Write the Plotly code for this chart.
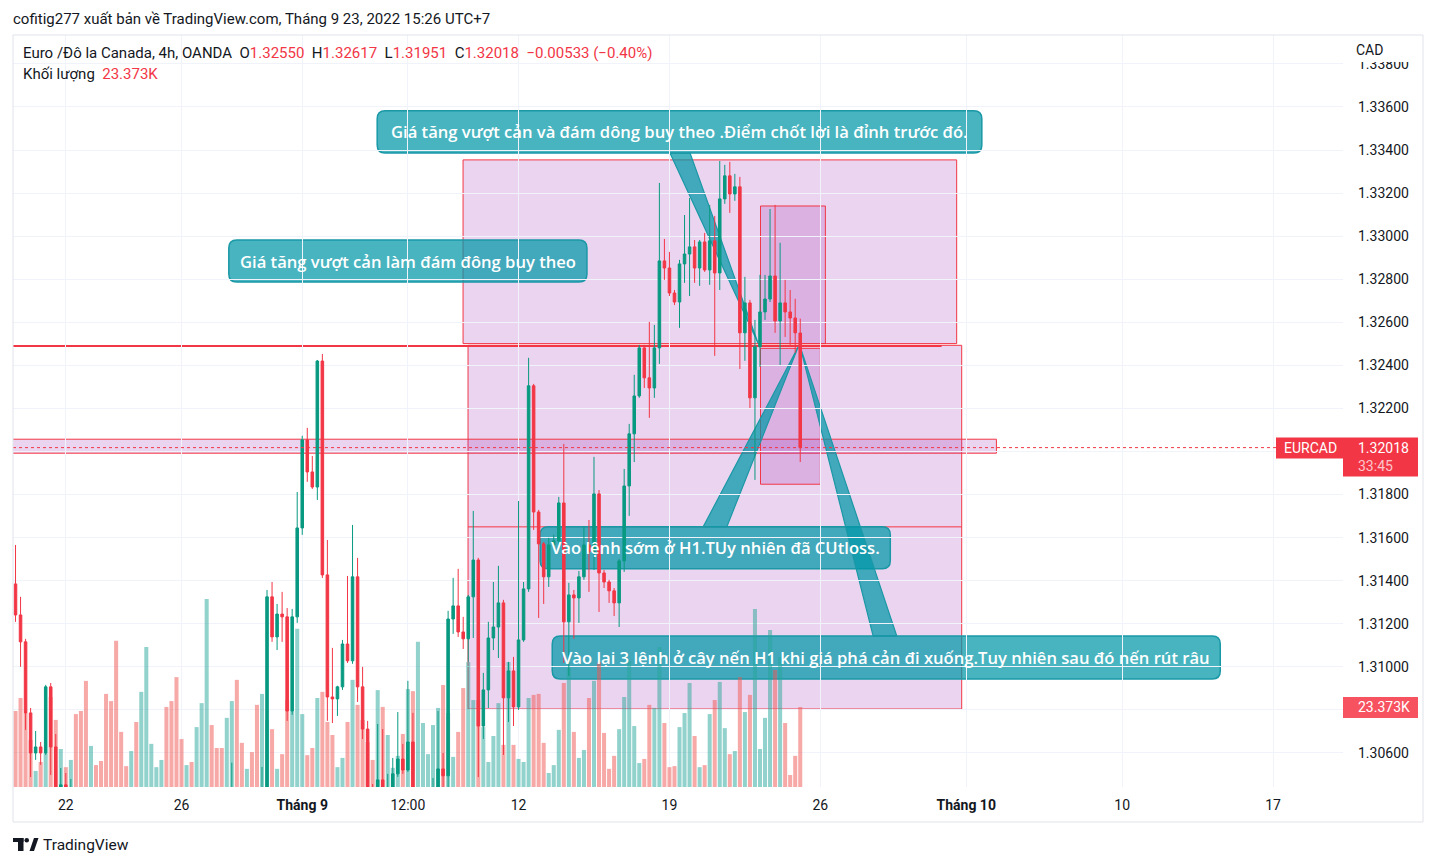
import plotly.graph_objects as go

# ---------------- data (EURCAD, 4h, OANDA) ----------------
open_ = [1.31385,1.31241,1.31116,1.30786,1.30600,1.30628,1.30600,1.30907,1.30628,1.30425,
         1.30452,1.30419,1.30430,1.30300,1.30220,1.30100,1.30180,1.30120,1.30050,1.29940,
         1.29850,1.29680,1.29620,1.29580,1.29660,1.29570,1.29720,1.29900,1.29960,1.30000,
         1.30060,1.29960,1.29880,1.29750,1.29700,1.29750,1.29710,1.29820,1.29950,1.30250,
         1.30150,1.30100,1.30040,1.30150,1.30300,1.30180,1.30120,1.30160,1.30080,1.30000,
         1.30300,1.31325,1.31139,1.31245,1.31232,1.30795,1.31232,1.31645,1.32054,1.31905,
         1.31835,1.32420,1.31427,1.30860,1.30851,1.30907,1.31106,1.31028,1.31418,1.30907,
         1.30711,1.30400,1.30360,1.30475,1.30400,1.30430,1.30503,1.30572,1.30521,1.30651,
         1.30350,1.30380,1.30380,1.30360,1.30420,1.30526,1.30494,1.31222,1.31283,1.31162,
         1.31130,1.31325,1.31496,1.30725,1.30893,1.31134,1.31185,1.31297,1.30856,1.30981,
         1.30814,1.31125,1.31362,1.32305,1.31719,1.31571,1.31418,1.31566,1.31585,1.31761,
         1.31209,1.31334,1.31320,1.31418,1.31566,1.31534,1.31803,1.31436,1.31394,1.31353,
         1.31297,1.31492,1.31840,1.32082,1.32258,1.32481,1.32342,1.32295,1.32481,1.32885,
         1.32852,1.32736,1.32694,1.32871,1.32917,1.32950,1.32852,1.32973,1.32843,1.32978,
         1.32829,1.33173,1.33280,1.33196,1.33229,1.32551,1.32690,1.32249,1.32486,1.32648,
         1.32708,1.32815,1.32606,1.32690,1.32648,1.32620,1.32550]
high = [1.31566,1.31325,1.31130,1.30809,1.30702,1.30651,1.30916,1.30925,1.30688,1.30530,
        1.30507,1.30479,1.30435,1.30340,1.30260,1.30220,1.30210,1.30150,1.30080,1.29980,
        1.29900,1.29720,1.29650,1.29700,1.29690,1.29760,1.29950,1.30000,1.30040,1.30100,
        1.30120,1.30000,1.29930,1.29800,1.29780,1.29790,1.29860,1.29990,1.30320,1.30300,
        1.30190,1.30140,1.30200,1.30555,1.30380,1.30220,1.30190,1.30200,1.30120,1.30535,
        1.31357,1.31394,1.31292,1.31348,1.31273,1.31269,1.31812,1.32073,1.32110,1.31979,
        1.32425,1.32453,1.31589,1.31088,1.30912,1.31125,1.31422,1.31659,1.31506,1.31000,
        1.30749,1.30456,1.30735,1.30711,1.30503,1.30577,1.30790,1.30642,1.30935,1.30786,
        1.30430,1.30435,1.30438,1.30484,1.30795,1.30600,1.31260,1.31413,1.31455,1.31232,
        1.31334,1.31724,1.31506,1.30972,1.31209,1.31394,1.31469,1.31311,1.31023,1.31046,
        1.31770,1.31394,1.32435,1.32314,1.31729,1.31580,1.31599,1.31613,1.31789,1.32035,
        1.31390,1.31357,1.31445,1.31650,1.31682,1.31975,1.31821,1.31450,1.31404,1.31366,
        1.31501,1.31919,1.32128,1.32356,1.32495,1.32495,1.32602,1.32588,1.33247,1.32987,
        1.32927,1.32750,1.32890,1.33098,1.33177,1.32982,1.32982,1.33015,1.33145,1.33094,
        1.33349,1.33331,1.33345,1.33289,1.33275,1.32811,1.32704,1.32611,1.32820,1.32820,
        1.33126,1.33145,1.32969,1.32797,1.32750,1.32709,1.32617]
low = [1.31209,1.31000,1.30707,1.30488,1.30568,1.30545,1.30591,1.30498,1.30382,1.30382,
       1.30382,1.30360,1.30250,1.30180,1.30050,1.30060,1.30080,1.30010,1.29900,1.29800,
       1.29620,1.29560,1.29530,1.29550,1.29500,1.29540,1.29680,1.29860,1.29930,1.29970,
       1.29920,1.29830,1.29700,1.29650,1.29670,1.29660,1.29680,1.29780,1.29900,1.30100,
       1.30060,1.30000,1.30010,1.30120,1.30120,1.30080,1.30090,1.30030,1.29960,1.29980,
       1.30250,1.31116,1.31078,1.31116,1.30749,1.30777,1.31204,1.31613,1.31859,1.31826,
       1.31775,1.31413,1.30749,1.30739,1.30772,1.30893,1.31018,1.31014,1.30837,1.30665,
       1.30350,1.30300,1.30330,1.30360,1.30370,1.30400,1.30489,1.30503,1.30512,1.30300,
       1.30200,1.30340,1.30320,1.30300,1.30360,1.30428,1.30442,1.31153,1.31139,1.31083,
       1.31023,1.31134,1.30488,1.30665,1.30809,1.31078,1.31041,1.30591,1.30744,1.30725,
       1.30800,1.31116,1.31348,1.31636,1.31227,1.31292,1.31371,1.31552,1.31566,1.31018,
       1.30958,1.31130,1.31204,1.31404,1.31348,1.31450,1.31255,1.31366,1.31297,1.31236,
       1.31185,1.31441,1.31701,1.31951,1.32249,1.32295,1.32156,1.32249,1.32407,1.32797,
       1.32722,1.32680,1.32574,1.32783,1.32722,1.32783,1.32769,1.32834,1.32774,1.32444,
       1.32750,1.33150,1.33108,1.33164,1.32383,1.32421,1.32202,1.31868,1.32393,1.32611,
       1.32694,1.32551,1.32402,1.32532,1.32495,1.32458,1.31951]
close = [1.31241,1.31116,1.30786,1.30600,1.30628,1.30600,1.30907,1.30628,1.30428,1.30452,
         1.30419,1.30430,1.30300,1.30220,1.30100,1.30180,1.30120,1.30050,1.29940,1.29850,
         1.29680,1.29620,1.29580,1.29660,1.29570,1.29720,1.29900,1.29960,1.30000,1.30060,
         1.29960,1.29880,1.29750,1.29700,1.29750,1.29710,1.29820,1.29950,1.30250,1.30150,
         1.30100,1.30040,1.30150,1.30300,1.30180,1.30120,1.30160,1.30080,1.30000,1.30300,
         1.31325,1.31139,1.31245,1.31232,1.30795,1.31232,1.31645,1.32054,1.31905,1.31835,
         1.32420,1.31427,1.30860,1.30851,1.30907,1.31106,1.31028,1.31418,1.30907,1.30711,
         1.30400,1.30360,1.30475,1.30400,1.30430,1.30503,1.30572,1.30521,1.30651,1.30350,
         1.30400,1.30420,1.30430,1.30420,1.30526,1.30494,1.31222,1.31283,1.31162,1.31130,
         1.31325,1.31496,1.30725,1.30893,1.31134,1.31185,1.31297,1.30856,1.30981,1.30814,
         1.31125,1.31362,1.32305,1.31719,1.31571,1.31418,1.31566,1.31585,1.31761,1.31209,
         1.31334,1.31320,1.31418,1.31566,1.31534,1.31803,1.31436,1.31394,1.31353,1.31297,
         1.31492,1.31840,1.32082,1.32258,1.32481,1.32342,1.32295,1.32481,1.32885,1.32852,
         1.32736,1.32694,1.32871,1.32917,1.32950,1.32852,1.32973,1.32843,1.32978,1.32829,
         1.33173,1.33280,1.33196,1.33229,1.32551,1.32690,1.32249,1.32486,1.32648,1.32708,
         1.32815,1.32606,1.32690,1.32648,1.32620,1.32551,1.32018]
volume_k = [22.2,26.0,21.6,13.7,4.7,7.3,9.9,26.3,19.6,11.1,5.8,7.9,21.3,22.2,31.0,12.0,6.4,7.6,
            27.2,25.1,42.7,16.1,6.1,10.5,19.0,27.8,40.9,12.6,5.8,7.9,23.4,25.1,32.1,14.0,6.4,7.3,
            17.5,24.5,54.9,18.1,11.4,11.4,20.2,25.1,31.3,12.9,5.3,10.2,24.0,27.2,19.6,16.9,5.3,9.6,
            25.4,22.2,46.2,21.3,9.3,11.4,26.0,27.8,19.0,15.2,5.8,8.5,19.0,31.3,24.0,19.6,13.1,7.9,
            28.3,23.4,15.2,5.6,9.1,15.5,28.6,28.0,42.4,18.7,9.6,18.1,23.1,29.8,21.6,8.8,16.1,28.9,
            36.5,25.4,25.4,17.5,7.3,14.9,24.5,12.3,36.5,12.3,8.2,7.3,26.0,26.9,27.2,12.9,4.1,6.4,
            16.7,30.4,34.8,16.1,8.5,10.8,26.0,31.0,36.5,15.8,5.3,9.1,16.9,26.3,36.8,17.8,7.0,8.2,
            24.0,23.1,40.9,18.7,5.8,6.1,17.5,21.6,30.4,14.9,5.8,6.4,21.3,25.4,30.7,17.2,9.6,10.5,
            32.1,21.9,26.9,52.0,11.1,20.2,45.9,34.2,38.0,18.7,3.5,9.1,23.373]

tick_index = [10, 33, 57, 78, 100, 130, 160, 189, 220, 250]
tick_labels = ["22", "26", "<b>Tháng 9</b>", "12:00", "12", "19", "26", "<b>Tháng 10</b>", "10", "17"]

symbol = "EURCAD"
title_text = "cofitig277 xuất bản về TradingView.com, Tháng 9 23, 2022 15:26 UTC+7"
series_name = "Euro /Đô la Canada, 4h, OANDA"
countdown = "33:45"

callout_texts = [
    "Giá tăng vượt cản và đám dông buy theo .Điểm chốt lời là đỉnh trước đó.",
    "Giá tăng vượt cản làm đám đông buy theo",
    "Vào lệnh sớm ở H1.TUy nhiên đã CUtloss.",
    "Vào lại 3 lệnh ở cây nến H1 khi giá phá cản đi xuống.Tuy nhiên sau đó nến rút râu",
]

# ---------------- style ----------------
UP, DN = "#089981", "#f23645"
RED = "#f23645"
TXT = "#131722"
GRID = "#f0f3fa"
RECT_FILL = "rgba(156,39,176,0.2)"
CALL_FILL = "rgba(0,151,167,0.72)"
CALL_LINE = "#1a98a6"
FONT = "Roboto"

n = len(close)
xs = list(range(n))
X0, X1 = -0.5, 263.9
Y0, Y1 = 1.30442, 1.33934
VMAX = 219.7
PLOT_W, PLOT_H = 1330, 752
ML, MT = 13, 35
kx = (X1 - X0) / PLOT_W        # index units per px
ky = (Y1 - Y0) / PLOT_H        # price per px
kv = VMAX / PLOT_H             # volume per px


def pxx(px):
    return (px - ML) / PLOT_W


def pxy(py):
    return (MT + PLOT_H - py) / PLOT_H


vol_colors = ["rgba(38,166,154,0.5)" if c >= o else "rgba(239,83,80,0.5)" for o, c in zip(open_, close)]

fig = go.Figure()
fig.add_trace(go.Bar(x=xs, y=volume_k, marker=dict(color=vol_colors, line=dict(width=0)),
                     width=0.8, yaxis="y", hoverinfo="skip"))
fig.add_trace(go.Candlestick(x=xs, open=open_, high=high, low=low, close=close, yaxis="y2",
                             increasing=dict(line=dict(color=UP, width=1), fillcolor=UP),
                             decreasing=dict(line=dict(color=DN, width=1), fillcolor=DN),
                             whiskerwidth=0, hoverinfo="skip"))

shapes = []
DRAW_LAYER = "below"


def rect(x0, x1, y0, y1, fill=RECT_FILL, line=RED, lw=1):
    shapes.append(dict(type="rect", xref="x", yref="y2", x0=x0, x1=x1, y0=y0, y1=y1,
                       fillcolor=fill, line=dict(color=line, width=lw), layer=DRAW_LAYER))


# zones / rectangles
rect(88.97, 187.1, 1.32501, 1.33354)
rect(89.96, 188.1, 1.30804, 1.32493)
rect(-3, 195.0, 1.31992, 1.32057)
rect(148.1, 161.0, 1.32501, 1.33140)
rect(148.1, 160.0, 1.31848, 1.32479)
shapes.append(dict(type="line", xref="x", yref="y2", x0=89.96, x1=188.1, y0=1.31650, y1=1.31650,
                   line=dict(color=RED, width=1), layer=DRAW_LAYER))
shapes.append(dict(type="line", xref="x", yref="y2", x0=-3, x1=184.1, y0=1.32490, y1=1.32490,
                   line=dict(color=RED, width=2), layer=DRAW_LAYER))

# callouts
callouts = [
    dict(box=(71.9, 192.1, 1.33386, 1.33582), ptr=((130.1, 1.33386), (134.1, 1.33386), (147.6, 1.32504))),
    dict(box=(42.4, 113.6, 1.32787, 1.32982), ptr=None),
    dict(box=(104.3, 173.9, 1.31455, 1.31650), ptr=((136.7, 1.31650), (141.4, 1.31650), (155.6, 1.32486))),
    dict(box=(106.7, 239.5, 1.30944, 1.31143), ptr=((170.5, 1.31143), (175.2, 1.31143), (156.0, 1.32486))),
]
rx, ry = 8 * kx, 8 * ky
for cdef in callouts:
    x0, x1, y0, y1 = cdef["box"]
    path = (f"M {x0+rx},{y1} L {x1-rx},{y1} Q {x1},{y1} {x1},{y1-ry} L {x1},{y0+ry} "
            f"Q {x1},{y0} {x1-rx},{y0} L {x0+rx},{y0} Q {x0},{y0} {x0},{y0+ry} "
            f"L {x0},{y1-ry} Q {x0},{y1} {x0+rx},{y1} Z")
    shapes.append(dict(type="path", xref="x", yref="y2", path=path, fillcolor=CALL_FILL,
                       line=dict(color=CALL_LINE, width=1.5), layer=DRAW_LAYER))
    if cdef["ptr"]:
        (ax, ay), (bx, by), (tx, ty) = cdef["ptr"]
        shapes.append(dict(type="path", xref="x", yref="y2",
                           path=f"M {ax},{ay} L {tx},{ty} L {bx},{by} Z", fillcolor=CALL_FILL,
                           line=dict(color=CALL_LINE, width=1.2), layer=DRAW_LAYER))

last_c = close[-1]
last_v = volume_k[-1]
# last price line
shapes.append(dict(type="line", xref="paper", yref="y2", x0=0, x1=1, y0=last_c, y1=last_c,
                   line=dict(color=RED, width=1, dash="dot"), layer="above"))
# price labels
shapes.append(dict(type="rect", xref="paper", yref="y2", x0=pxx(1276), x1=1.0,
                   y0=last_c - 11 * ky, y1=last_c + 10 * ky, fillcolor=RED, line=dict(width=0), layer="above"))
shapes.append(dict(type="rect", xref="paper", yref="y2", x0=1.0, x1=pxx(1418),
                   y0=last_c - 29 * ky, y1=last_c + 10 * ky, fillcolor=RED, line=dict(width=0), layer="above"))
shapes.append(dict(type="rect", xref="paper", yref="y", x0=1.0, x1=pxx(1418),
                   y0=last_v - 11 * kv, y1=last_v + 10 * kv, fillcolor="#f7525f", line=dict(width=0), layer="above"))
# cover for the top price label under the currency caption
shapes.append(dict(type="rect", xref="paper", yref="paper", x0=1.0005, x1=pxx(1422),
                   y0=pxy(62), y1=pxy(36), fillcolor="white", line=dict(width=0), layer="above"))
# chart frame
shapes.append(dict(type="rect", xref="paper", yref="paper", x0=0, x1=pxx(1423), y0=pxy(822), y1=1.0,
                   line=dict(color="#e0e3eb", width=1), fillcolor="rgba(0,0,0,0)", layer="above"))
# TradingView logo
LOGO = "#131722"
shapes.append(dict(type="rect", xref="paper", yref="paper", x0=pxx(13), x1=pxx(23.5), y0=pxy(842), y1=pxy(838),
                   fillcolor=LOGO, line=dict(width=0), layer="above"))
shapes.append(dict(type="rect", xref="paper", yref="paper", x0=pxx(18), x1=pxx(23.5), y0=pxy(851), y1=pxy(838),
                   fillcolor=LOGO, line=dict(width=0), layer="above"))
shapes.append(dict(type="circle", xref="paper", yref="paper", x0=pxx(24.5), x1=pxx(29), y0=pxy(842.5), y1=pxy(838),
                   fillcolor=LOGO, line=dict(width=0), layer="above"))
shapes.append(dict(type="path", xref="paper", yref="paper",
                   path=f"M {pxx(29.5)},{pxy(851)} L {pxx(34)},{pxy(838)} L {pxx(38.5)},{pxy(838)} L {pxx(34)},{pxy(851)} Z",
                   fillcolor=LOGO, line=dict(width=0), layer="above"))

# price-scale labels: hide the ones covered by the last-price / last-volume badges
price_ticks = [round(1.306 + 0.002 * k, 3) for k in range(17)]
vol_label_price = Y0 + (last_v / VMAX) * (Y1 - Y0)
price_tick_text = ["" if (abs(v - last_c) < 14 * ky or abs(v - vol_label_price) < 12 * ky) else f"{v:.5f}"
                   for v in price_ticks]

annotations = []
for cdef, txt in zip(callouts, callout_texts):
    x0, x1, y0, y1 = cdef["box"]
    annotations.append(dict(xref="x", yref="y2", x=(x0 + x1) / 2, y=(y0 + y1) / 2, text=txt, showarrow=False,
                            font=dict(family="Open Sans", size=16.6, color="white", weight=600),
                            xanchor="center", yanchor="middle"))

prev_c = close[-2]
chg = last_c - prev_c
pct = chg / prev_c * 100


def sgn(v, fmt):
    return format(v, fmt).replace("-", "\u2212")


sp = "\u00a0\u00a0"


def red(s):
    return f"<span style='color:{RED}'>{s}</span>"


legend1 = (f"{series_name}{sp}O{red(f'{open_[-1]:.5f}')}{sp}H{red(f'{high[-1]:.5f}')}{sp}"
           f"L{red(f'{low[-1]:.5f}')}{sp}C{red(f'{last_c:.5f}')}{sp}"
           f"{red(sgn(chg, '.5f') + ' (' + sgn(pct, '.2f') + '%)')}")
legend2 = f"Khối lượng{sp}{red(f'{last_v:.3f}K')}"

hdr = dict(family=FONT, size=15, color=TXT)
annotations += [
    dict(xref="paper", yref="paper", x=pxx(11), y=pxy(19), text=title_text, showarrow=False,
         xanchor="left", yanchor="middle", font=hdr),
    dict(xref="paper", yref="paper", x=pxx(21), y=pxy(53), text=legend1, showarrow=False,
         xanchor="left", yanchor="middle", font=hdr),
    dict(xref="paper", yref="paper", x=pxx(21), y=pxy(74), text=legend2, showarrow=False,
         xanchor="left", yanchor="middle", font=hdr),
    dict(xref="paper", yref="paper", x=pxx(1369), y=pxy(50), text="CAD", showarrow=False,
         xanchor="center", yanchor="middle", font=dict(family=FONT, size=14, color=TXT)),
    dict(xref="paper", yref="y2", x=pxx(1310), y=last_c, text=symbol, showarrow=False,
         xanchor="center", yanchor="middle", font=dict(family=FONT, size=14, color="white")),
    dict(xref="paper", yref="y2", x=pxx(1356), y=last_c, text=f"{last_c:.5f}", showarrow=False,
         xanchor="left", yanchor="middle", font=dict(family=FONT, size=14, color="white")),
    dict(xref="paper", yref="y2", x=pxx(1356), y=last_c - 18 * ky, text=countdown, showarrow=False,
         xanchor="left", yanchor="middle", font=dict(family=FONT, size=14, color="rgba(255,255,255,0.72)")),
    dict(xref="paper", yref="y", x=pxx(1356), y=last_v, text=f"{last_v:.3f}K", showarrow=False,
         xanchor="left", yanchor="middle", font=dict(family=FONT, size=14, color="white")),
    dict(xref="paper", yref="paper", x=pxx(41), y=pxy(844.5), text="TradingView", showarrow=False,
         xanchor="left", yanchor="middle", font=dict(family=FONT, size=15.5, color=TXT)),
]

fig.update_layout(
    width=1437, height=866,
    margin=dict(l=ML, r=1437 - ML - PLOT_W, t=MT, b=866 - MT - PLOT_H, pad=0),
    paper_bgcolor="white", plot_bgcolor="white", showlegend=False,
    font=dict(family=FONT, size=14, color=TXT),
    boxgap=0.28, bargap=0.2,
    xaxis=dict(range=[X0, X1], tickvals=tick_index, ticktext=tick_labels, showgrid=True, gridcolor=GRID,
               gridwidth=1, zeroline=False, showline=False, ticks="", rangeslider=dict(visible=False),
               fixedrange=True, ticklabelstandoff=8, tickfont=dict(family=FONT, size=14, color=TXT)),
    yaxis=dict(range=[0, VMAX], visible=False, fixedrange=True, showgrid=False),
    yaxis2=dict(overlaying="y", side="right", range=[Y0, Y1], tickvals=price_ticks, ticktext=price_tick_text,
                showgrid=True, gridcolor=GRID, gridwidth=1, zeroline=False, showline=False, ticks="",
                ticklabelstandoff=14, fixedrange=True, tickfont=dict(family=FONT, size=14, color=TXT)),
    shapes=shapes, annotations=annotations,
)

fig.write_html("out.html", config={"displayModeBar": False},
               post_script="document.body.style.margin='0';")
